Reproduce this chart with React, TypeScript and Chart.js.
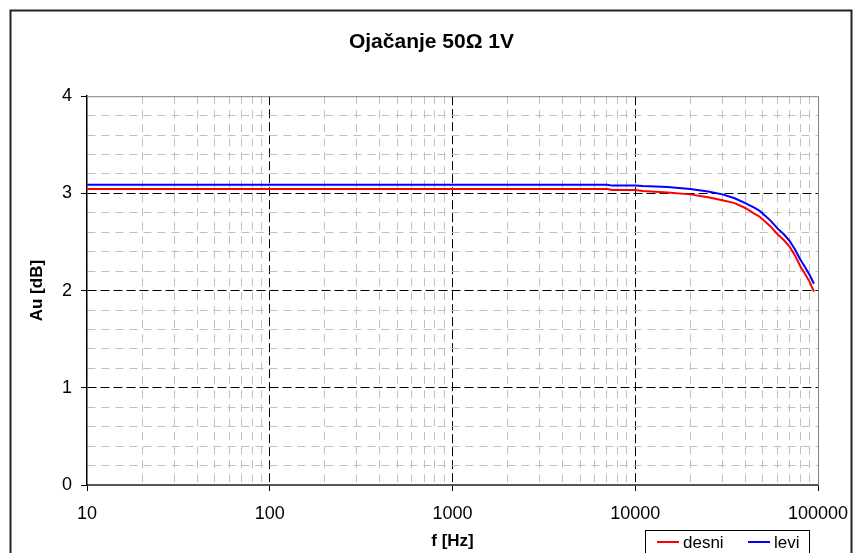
import React, { useEffect, useRef } from 'react';
import { Chart, registerables } from 'chart.js';

Chart.register(...registerables);

const FONT = '"Liberation Sans", Arial, Helvetica, sans-serif';

const titleText = 'Ojačanje 50Ω 1V';
const xTitle = 'f [Hz]';
const yTitle = 'Au [dB]';
const seriesNames = ['desni', 'levi'];
const seriesColors = ['#ff0000', '#0000ff'];

const freq = [10, 100, 1000, 5000, 7000, 7500, 10000, 11000, 15000, 20000, 25000, 30000, 35000, 40000, 45000, 48000, 55000, 60000, 65000, 70000, 75000, 80000, 85000, 90000, 95000];
const desni = [3.045, 3.045, 3.045, 3.045, 3.045, 3.035, 3.035, 3.025, 3.01, 2.99, 2.96, 2.93, 2.9, 2.85, 2.79, 2.76, 2.66, 2.58, 2.52, 2.45, 2.36, 2.25, 2.17, 2.09, 1.99];
const levi = [3.09, 3.09, 3.09, 3.09, 3.09, 3.08, 3.08, 3.075, 3.065, 3.045, 3.02, 2.99, 2.95, 2.9, 2.85, 2.82, 2.72, 2.64, 2.58, 2.51, 2.42, 2.32, 2.24, 2.16, 2.07];

const decades = [10, 100, 1000, 10000, 100000];
const minorMultiples = [1, 2, 3, 4, 5, 6, 7, 8, 9];
const yMin = 0;
const yMax = 4;
const yMinorStep = 0.2;

const xTickValues: number[] = [];
decades.slice(0, -1).forEach((d) => minorMultiples.forEach((m) => xTickValues.push(d * m)));
xTickValues.push(decades[decades.length - 1]);

const isDecade = (v: number) => decades.some((d) => Math.abs(d - v) < 1e-6 * d);
const isInt = (v: number) => Math.abs(v - Math.round(v)) < 1e-6;

const framePlugin = {
  id: 'frameAndLegend',
  afterDraw(chart: any) {
    const { ctx, chartArea } = chart;
    ctx.save();
    // plot area top & right border
    ctx.strokeStyle = '#808080';
    ctx.lineWidth = 1;
    ctx.beginPath();
    ctx.moveTo(chartArea.left, chartArea.top + 0.5);
    ctx.lineTo(chartArea.right, chartArea.top + 0.5);
    ctx.moveTo(chartArea.right + 0.5, chartArea.top);
    ctx.lineTo(chartArea.right + 0.5, chartArea.bottom);
    ctx.stroke();
    // outer frame
    ctx.strokeStyle = '#222';
    ctx.lineWidth = 2;
    ctx.strokeRect(10.5, 10.5, 841, 600);
    // legend
    ctx.strokeStyle = '#000';
    ctx.lineWidth = 1;
    ctx.fillStyle = '#fff';
    ctx.fillRect(645.5, 530.5, 164, 30);
    ctx.strokeRect(645.5, 530.5, 164, 30);
    const items = [
      { x: 657, label: seriesNames[0], color: seriesColors[0] },
      { x: 748, label: seriesNames[1], color: seriesColors[1] },
    ];
    ctx.font = `17px ${FONT}`;
    ctx.textBaseline = 'middle';
    ctx.textAlign = 'left';
    items.forEach((it) => {
      ctx.strokeStyle = it.color;
      ctx.lineWidth = 2;
      ctx.beginPath();
      ctx.moveTo(it.x, 542);
      ctx.lineTo(it.x + 22, 542);
      ctx.stroke();
      ctx.fillStyle = '#000';
      ctx.fillText(it.label, it.x + 26, 543);
    });
    ctx.restore();
  },
};

export default function App() {
  const ref = useRef<HTMLCanvasElement>(null);
  useEffect(() => {
    if (!ref.current) return;
    const chart = new Chart(ref.current, {
      type: 'line',
      data: {
        datasets: [
          {
            label: seriesNames[0],
            data: freq.map((f, i) => ({ x: f, y: desni[i] })),
            borderColor: seriesColors[0],
            backgroundColor: seriesColors[0],
            borderWidth: 2,
            pointRadius: 0,
            tension: 0,
          },
          {
            label: seriesNames[1],
            data: freq.map((f, i) => ({ x: f, y: levi[i] })),
            borderColor: seriesColors[1],
            backgroundColor: seriesColors[1],
            borderWidth: 2,
            pointRadius: 0,
            tension: 0,
          },
        ],
      },
      options: {
        responsive: false,
        animation: false,
        layout: { padding: { left: 10, right: 0, top: 10, bottom: 0 } },
        plugins: {
          legend: { display: false },
          tooltip: { enabled: false },
          title: {
            display: true,
            text: titleText,
            color: '#000',
            font: { family: FONT, size: 21, weight: 'bold' },
            padding: { top: 20, bottom: 41 },
          },
        },
        scales: {
          x: {
            type: 'logarithmic',
            min: decades[0],
            max: decades[decades.length - 1],
            afterBuildTicks: (s: any) => {
              s.ticks = xTickValues.map((v) => ({ value: v, major: isDecade(v) }));
            },
            afterFit: (s: any) => {
              s.height = 68;
              s.paddingLeft = 0;
              s.paddingRight = 35;
            },
            ticks: {
              autoSkip: false,
              maxRotation: 0,
              minRotation: 0,
              padding: 12,
              color: '#000',
              font: { family: FONT, size: 18 },
              callback: (v: any) => (isDecade(Number(v)) ? String(Number(v)) : ''),
            },
            grid: {
              color: (c: any) => {
                const v = c.tick?.value;
                if (v === undefined) return 'transparent';
                if (v <= decades[0] || v >= decades[decades.length - 1]) return 'transparent';
                return isDecade(v) ? '#000' : '#c0c0c0';
              },
              tickColor: (c: any) => (c.tick && isDecade(c.tick.value) ? '#000' : 'transparent'),
              tickLength: 6,
              lineWidth: 1,
            },
            border: {
              color: '#555',
              width: 2,
              dash: (c: any) => (c.tick && isDecade(c.tick.value) ? [9, 4] : [8, 6]),
            },
            title: {
              display: true,
              text: xTitle,
              color: '#000',
              font: { family: FONT, size: 17, weight: 'bold' },
              padding: { top: 0, bottom: 1 },
            },
          },
          y: {
            type: 'linear',
            min: yMin,
            max: yMax,
            afterFit: (s: any) => {
              s.width = 77;
            },
            ticks: {
              stepSize: yMinorStep,
              autoSkip: false,
              padding: 9,
              color: '#000',
              font: { family: FONT, size: 18 },
              callback: (v: any) => (isInt(Number(v)) ? String(Math.round(Number(v))) : ''),
            },
            grid: {
              color: (c: any) => {
                const v = c.tick?.value;
                if (v === undefined) return 'transparent';
                if (v <= yMin + 1e-6 || v >= yMax - 1e-6) return 'transparent';
                return isInt(v) ? '#000' : '#c0c0c0';
              },
              tickColor: (c: any) => (c.tick && isInt(c.tick.value) ? '#000' : 'transparent'),
              tickLength: 6,
              lineWidth: 1,
            },
            border: {
              color: '#000',
              width: 1.5,
              dash: (c: any) => (c.tick && isInt(c.tick.value) ? [9, 4] : [8, 6]),
            },
            title: {
              display: true,
              text: yTitle,
              color: '#000',
              font: { family: FONT, size: 17, weight: 'bold' },
              padding: { top: 17, bottom: 0 },
            },
          },
        },
      } as any,
      plugins: [framePlugin],
    });
    return () => chart.destroy();
  }, []);
  return (
    <div style={{ position: 'absolute', left: 0, top: 0, width: 853, height: 553, overflow: 'hidden', background: '#fff' }}>
      <canvas ref={ref} width={853} height={553} style={{ display: 'block' }} />
    </div>
  );
}
